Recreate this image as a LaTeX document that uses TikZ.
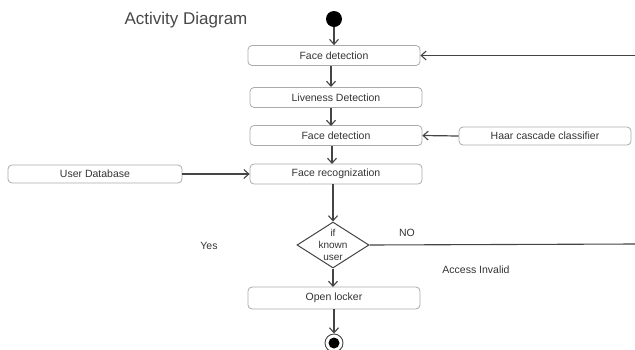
\documentclass[tikz,border=0pt]{standalone}
\usepackage{fontspec}
\setmainfont{Liberation Sans}
\usetikzlibrary{arrows.meta,shapes.geometric}
\definecolor{ln}{HTML}{444444}
\definecolor{bx}{HTML}{ABABAB}
\definecolor{tx}{HTML}{333333}
\begin{document}
\begin{tikzpicture}[x=1pt,y=-1pt,
  actbox/.style={draw=bx,line width=0.8pt,rounded corners=4pt,minimum width=172pt,minimum height=20pt,inner sep=0pt,text=tx,font=\fontsize{10.5}{12}\selectfont},
  flow/.style={draw=ln,line width=1.2pt,-{Straight Barb[length=5pt,width=9pt,line width=1.1pt]}},
  plain/.style={draw=ln,line width=1.1pt},
  lbl/.style={text=tx,font=\fontsize{10.5}{12}\selectfont,inner sep=0pt}]
\useasboundingbox (0,0) rectangle (635,349);
\node[text=tx!90,font=\fontsize{17}{20}\selectfont,inner sep=0pt] (title) at (186,20) {Activity Diagram};
\node[circle,fill=black,minimum size=16pt,inner sep=0pt] (start) at (334,19) {};
\node[actbox] (fd1) at (334,55.5) {Face detection};
\node[actbox] (live) at (336,97.5) {Liveness Detection};
\node[actbox] (fd2) at (336,135.5) {Face detection};
\node[actbox,minimum height=18pt] (haar) at (545,136) {Haar cascade classifier};
\node[actbox,minimum height=18pt,minimum width=174pt] (udb) at (95,174) {User Database};
\node[actbox] (fr) at (336,174) {Face recognization};
\node[diamond,draw=ln,line width=1pt,minimum width=72pt,minimum height=46pt,inner sep=0pt,
  label={[lbl,align=center,font=\fontsize{10}{12}\selectfont]center:if\\known\\user}] (dec) at (333,245) {};
\node[actbox,minimum height=22pt] (open) at (334,298) {Open locker};
\node[circle,draw=ln,line width=0.9pt,minimum size=18pt,inner sep=0pt] (endo) at (334,343) {};
\node[circle,fill=black,minimum size=11pt,inner sep=0pt] (endi) at (334,343) {};
\node[lbl] (yes) at (209,246) {Yes};
\node[lbl] (no) at (407,233) {NO};
\node[lbl] (acc) at (476,270) {Access Invalid};
\coordinate (rt) at (635,55.5);
\coordinate (rn) at (635,244);
\draw[flow] (start.south) -- (start.south |- fd1.north);
\draw[flow] (331,66) -- (331,87);
\draw[flow] (331,108) -- (331,126);
\draw[flow] (332,146) -- (332,164);
\draw[flow] (333,184) -- (dec.north);
\draw[flow] (dec.south) -- (333,287);
\draw[flow] (334,309) -- (endo.north);
\draw[flow] (rt) -- (fd1.east);
\draw[flow] (haar.west) -- (fd2.east);
\draw[flow] (udb.east) -- (fr.west);
\draw[plain] (dec.east) -- (rn);
\end{tikzpicture}
\end{document}
